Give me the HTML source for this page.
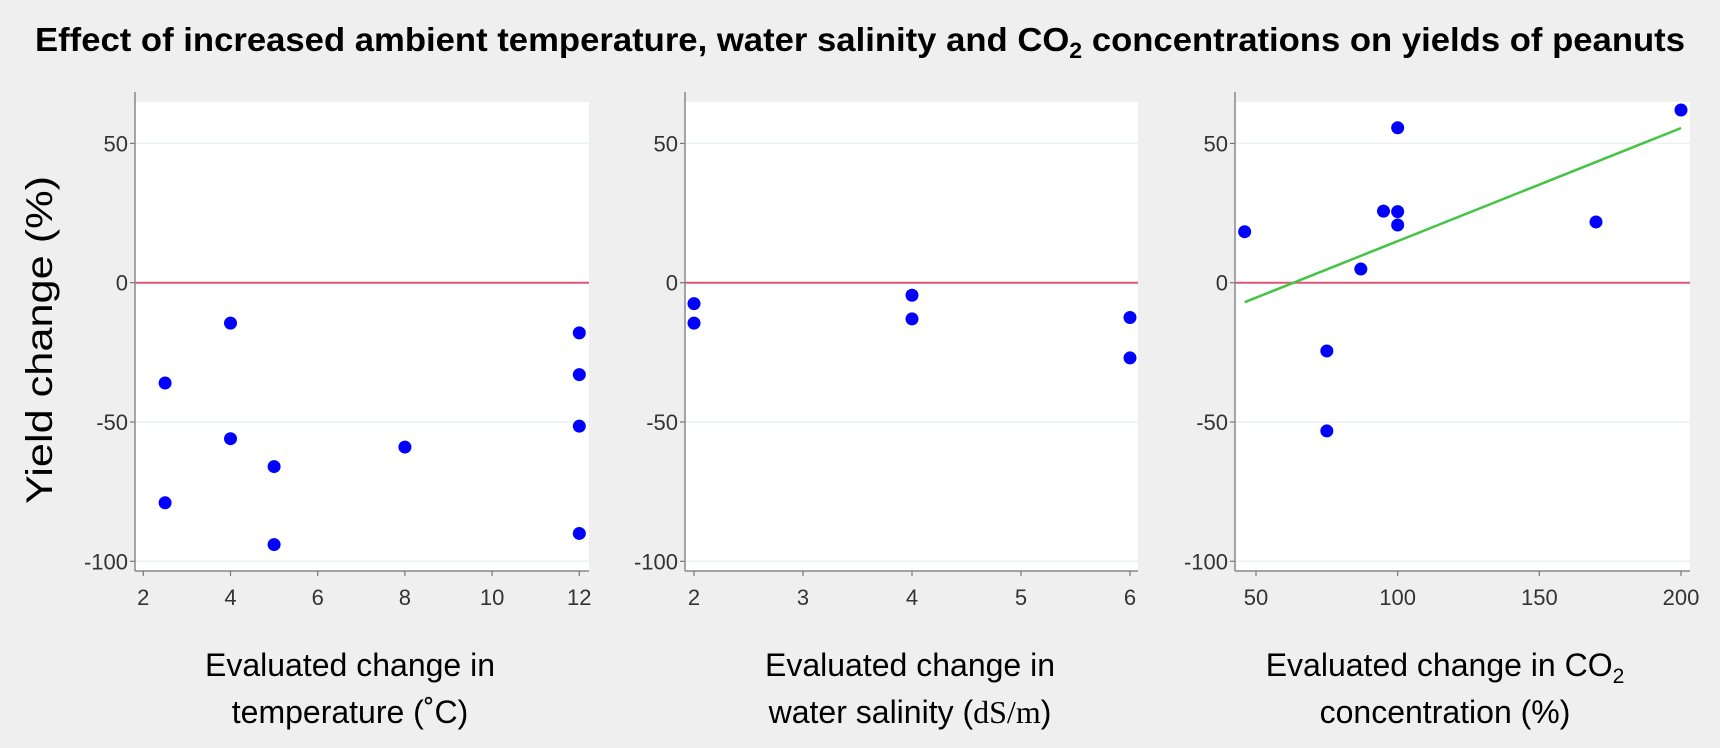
<!DOCTYPE html>
<html><head><meta charset="utf-8">
<style>
html,body{margin:0;padding:0;background:#efefef;}
svg{display:block;font-family:"Liberation Sans",sans-serif;}
</style></head>
<body>
<svg id="chart" width="1720" height="748" viewBox="0 0 1720 748">
<rect x="0" y="0" width="1720" height="748" fill="#efefef"/>
<text x="860" y="51" text-anchor="middle" font-size="33" font-weight="bold" fill="#000" textLength="1650" lengthAdjust="spacingAndGlyphs" font-family="Liberation Sans, sans-serif">Effect of increased ambient temperature, water salinity and CO<tspan font-size="22" dy="7">2</tspan><tspan dy="-7"> concentrations on yields of peanuts</tspan></text>
<text transform="translate(52,340) rotate(-90)" text-anchor="middle" font-size="37" fill="#000" textLength="328" lengthAdjust="spacingAndGlyphs">Yield change (%)</text>
<g id="panels"></g>
<text x="350" y="676" text-anchor="middle" font-size="32" font-family="Liberation Sans, sans-serif">Evaluated change in</text>
<text x="350" y="723" text-anchor="middle" font-size="32" font-family="Liberation Sans, sans-serif">temperature (˚C)</text>
<text x="910" y="676" text-anchor="middle" font-size="32" font-family="Liberation Sans, sans-serif">Evaluated change in</text>
<text x="910" y="723" text-anchor="middle" font-size="32" font-family="Liberation Sans, sans-serif">water salinity (<tspan font-family="Liberation Serif, serif">dS/m</tspan>)</text>
<text x="1445" y="676" text-anchor="middle" font-size="32" font-family="Liberation Sans, sans-serif">Evaluated change in CO<tspan font-size="21" dy="7">2</tspan></text>
<text x="1445" y="723" text-anchor="middle" font-size="32" font-family="Liberation Sans, sans-serif">concentration (%)</text>
</svg>
<script>
const yTicks = [50, 0, -50, -100];
const tempX = [2.5, 2.5, 4, 4, 5, 5, 8, 12, 12, 12, 12];
const tempY = [-36, -79, -14.5, -56, -66, -94, -59, -18, -33, -51.5, -90];
const tempTicks = [2, 4, 6, 8, 10, 12];
const salX = [2, 2, 4, 4, 6, 6];
const salY = [-7.5, -14.5, -4.5, -13, -12.5, -27];
const salTicks = [2, 3, 4, 5, 6];
const co2X = [46, 75, 75, 87, 95, 100, 100, 100, 170, 200];
const co2Y = [18.3, -24.5, -53.2, 4.9, 25.7, 55.6, 25.5, 20.7, 21.8, 62];
const co2Ticks = [50, 100, 150, 200];
const co2FitX = [46, 200];
const co2FitY = [-7, 55.5];

const NS = "http://www.w3.org/2000/svg";
const root = document.getElementById('panels');
function mk(tag, attrs, parent){ const e=document.createElementNS(NS,tag); for(const k in attrs) e.setAttribute(k,attrs[k]); (parent||root).appendChild(e); return e; }
const top_=102, bottom=571;
function yScale(v){ return 282.7 - v*2.786; }

function panel(cfg){
  const g = mk('g', {});
  
  
  const xs = v => cfg.px0 + (v - cfg.x0)*(cfg.px1 - cfg.px0)/(cfg.x1 - cfg.x0);
  const bg = mk('rect', {x:cfg.axisX, y:top_, width:cfg.right-cfg.axisX, height:bottom-top_, fill:'#fff'}, g);
  
  
  yTicks.forEach(t => {
    const y = yScale(t);
    if (t !== 0) {
      const gl = mk('line', {x1:cfg.axisX, x2:cfg.right, y1:y, y2:y, stroke:'#eaf2f2', 'stroke-width':1.5}, g);
      
      
    }
    mk('line', {x1:cfg.axisX-5, x2:cfg.axisX, y1:y, y2:y, stroke:'#777', 'stroke-width':1.2}, g);
    const tl = mk('text', {x:cfg.axisX-7, y:y+8, 'text-anchor':'end', 'font-size':22, fill:'#333'}, g);
    tl.textContent = t;
    
    
  });
  const zl = mk('line', {x1:cfg.axisX, x2:cfg.right, y1:yScale(0), y2:yScale(0), stroke:'#dd5577', 'stroke-width':2}, g);
  
  
  const ya = mk('line', {x1:cfg.axisX, x2:cfg.axisX, y1:top_-10, y2:bottom, stroke:'#888', 'stroke-width':1.5}, g);
  
  
  const xa = mk('line', {x1:cfg.axisX, x2:cfg.right, y1:bottom, y2:bottom, stroke:'#888', 'stroke-width':1.5}, g);
  
  
  cfg.ticks.forEach(t => {
    const x = xs(t);
    mk('line', {x1:x, x2:x, y1:bottom, y2:bottom+5, stroke:'#777', 'stroke-width':1.2}, g);
    const tl = mk('text', {x:x, y:bottom+34, 'text-anchor':'middle', 'font-size':22, fill:'#333'}, g);
    tl.textContent = t;
    
    
  });
  if (cfg.fitX) {
    const fl = mk('line', {x1:xs(cfg.fitX[0]), y1:yScale(cfg.fitY[0]), x2:xs(cfg.fitX[1]), y2:yScale(cfg.fitY[1]), stroke:'#44c444', 'stroke-width':2.5}, g);
    
    
  }
  cfg.xv.forEach((v,i) => {
    const c = mk('circle', {cx:xs(v), cy:yScale(cfg.yv[i]), r:6.5, fill:'#0000ff'}, g);
    
    
  });
}
panel({name:'temperature', axisX:135, right:589, x0:2, x1:12, px0:143.3, px1:579.3, ticks:tempTicks, xv:tempX, yv:tempY});
panel({name:'salinity', axisX:685, right:1138, x0:2, x1:6, px0:694, px1:1130, ticks:salTicks, xv:salX, yv:salY});
panel({name:'co2', axisX:1235, right:1690, x0:50, x1:200, px0:1256, px1:1681, ticks:co2Ticks, xv:co2X, yv:co2Y, fitX:co2FitX, fitY:co2FitY});
</script>
</body></html>
